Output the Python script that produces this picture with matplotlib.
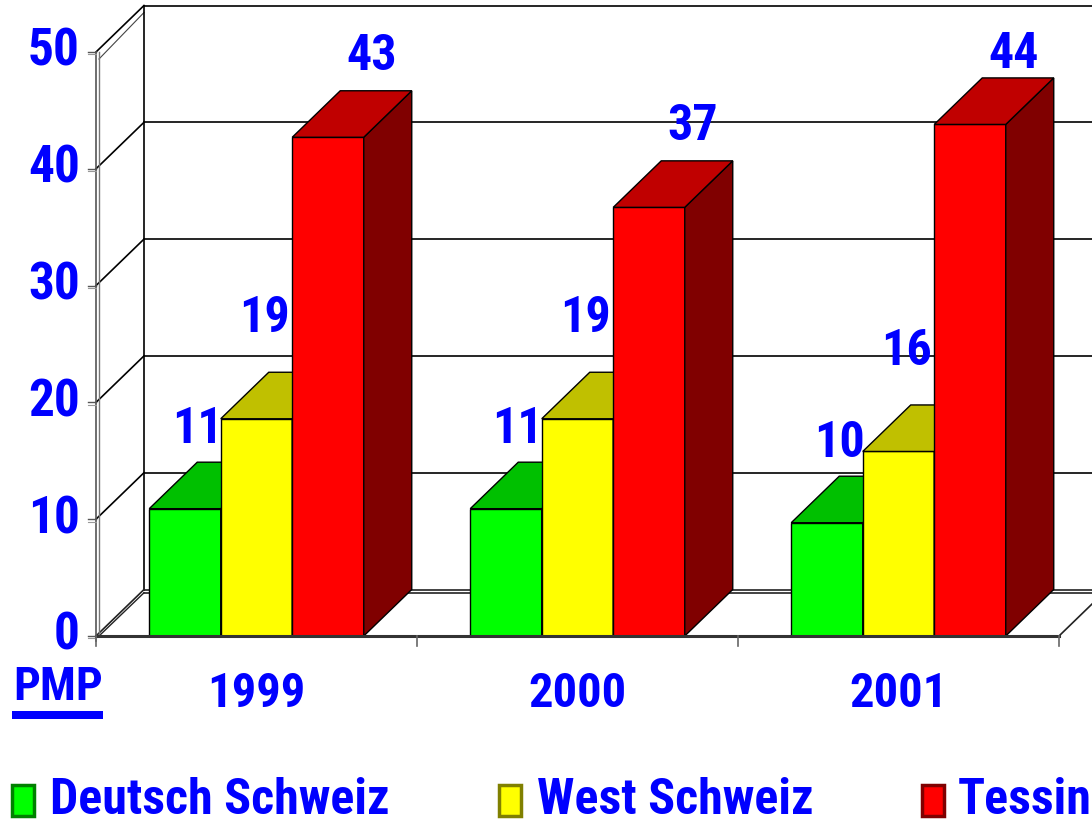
import matplotlib
matplotlib.use("Agg")
import matplotlib.pyplot as plt
from matplotlib.patches import Polygon, Rectangle
from matplotlib import font_manager

# ---- data ----
years = ["1999", "2000", "2001"]
series = ["Deutsch Schweiz", "West Schweiz", "Tessin"]
deutsch = [10.9, 10.9, 9.7]
west = [18.6, 18.6, 15.8]
tessin = [42.7, 36.7, 43.8]
labels_deutsch = [11, 11, 10]
labels_west = [19, 19, 16]
labels_tessin = [43, 37, 44]
y_ticks = [0, 10, 20, 30, 40, 50]

values = [deutsch, west, tessin]
value_labels = [labels_deutsch, labels_west, labels_tessin]
front_colors = ["#00FF00", "#FFFF00", "#FF0000"]
top_colors = ["#00C000", "#C0C000", "#C00000"]
side_colors = ["#008000", "#808000", "#800000"]
edge_legend = ["#008000", "#808000", "#800000"]
BLUE = "#0000FF"

names = {f.name for f in font_manager.fontManager.ttflist}
narrow = None
for cand in ["Liberation Sans Narrow", "Roboto Condensed", "Arial Narrow", "Open Sans Condensed"]:
    if cand in names:
        narrow = cand
        break
if narrow:
    FONT = [narrow, "DejaVu Sans"]
    FS_TICK, FS_VAL, FS_YEAR, FS_PMP, FS_LEG = 37, 36, 35, 34, 36
else:
    FONT = ["Liberation Sans", "DejaVu Sans"]
    FS_TICK, FS_VAL, FS_YEAR, FS_PMP, FS_LEG = 33.5, 33.5, 31, 29.5, 30

W, H = 1092, 826
fig = plt.figure(figsize=(W / 100, H / 100), dpi=100)
ax = fig.add_axes([0, 0, 1, 1])
ax.axis("off")

# pixel geometry of the frame (decoration only)
X0PX, CATPX = 96, 321.0
Y0PX, UNITPX = 636, 11.68


def px2x(px):
    return -0.5 + (px - X0PX) / CATPX


def py2y(py):
    return (Y0PX - py) / UNITPX


ax.set_xlim(px2x(0), px2x(W))
ax.set_ylim(py2y(H), py2y(0))

DX = 48 / CATPX
DY = 46.5 / UNITPX
ncat = len(years)
xl, xr = -0.5, ncat - 0.5
ymax = y_ticks[-1]
grid_c = "#000000"

# back wall gridlines
for v in y_ticks[1:]:
    ax.plot([xl + DX, px2x(W) + 1], [v + DY, v + DY], color=grid_c, lw=1.2, zorder=1)
    ax.plot([xl, xl + DX], [v, v + DY], color=grid_c, lw=1.2, zorder=1)
ax.plot([xl + 3 / CATPX, xl + DX], [ymax - 0.6, ymax + DY - 0.6], color="#444444", lw=0.8, zorder=1)
# back wall vertical
ax.plot([xl + DX, xl + DX], [DY, ymax + DY], color=grid_c, lw=1.2, zorder=1)
# floor back edge (double)
ax.plot([xl + DX, px2x(W) + 1], [DY, DY], color="#222222", lw=1.2, zorder=1)
ax.plot([xl + DX, px2x(W) + 1], [DY - 0.28, DY - 0.28], color="#222222", lw=1.2, zorder=1)
# floor side diagonals
ax.plot([xl, xl + DX], [0, DY], color="#222222", lw=1.2, zorder=1)
ax.plot([xl + 3 / CATPX, xl + DX], [0, DY - 0.28], color="#222222", lw=1.0, zorder=1)
ax.plot([xr, xr + DX], [0, DY], color="#222222", lw=1.2, zorder=1)
# front axis (double gray)
ax.plot([xl, xl], [-0.4, ymax], color="#555555", lw=1.2, zorder=2)
ax.plot([xl + 3 / CATPX, xl + 3 / CATPX], [0, ymax], color="#777777", lw=1.0, zorder=2)
for v in y_ticks:
    ax.plot([xl - 8 / CATPX, xl], [v, v], color="#555555", lw=1.0, zorder=2)
    ax.plot([xl - 8 / CATPX, xl], [v - 0.2, v - 0.2], color="#999999", lw=0.8, zorder=2)
    ax.text(px2x(80), v, str(v), ha="right", va="center", color=BLUE,
            fontsize=FS_TICK, fontweight="bold", family=FONT)
# floor front edge
ax.plot([xl, xr], [0, 0], color="#333333", lw=2.2, zorder=30)
for i in range(ncat + 1):
    xb = xl + i
    ax.plot([xb, xb], [0, -10 / UNITPX], color="#666666", lw=1.2, zorder=30)

# bars
bw = 71.5 / CATPX
nser = len(series)
z = 10
for g in range(ncat):
    for s in range(nser):
        xc = g + (s - (nser - 1) / 2) * bw
        v = values[s][g]
        bars = ax.bar(xc, v, width=bw, color=front_colors[s], edgecolor="black",
                      linewidth=1.0, zorder=z)
        b = bars[0]
        x1, x2 = b.get_x(), b.get_x() + b.get_width()
        top = Polygon([(x1, v), (x2, v), (x2 + DX, v + DY), (x1 + DX, v + DY)],
                      closed=True, facecolor=top_colors[s], edgecolor="black",
                      linewidth=1.0, zorder=z)
        side = Polygon([(x2, 0), (x2 + DX, DY), (x2 + DX, v + DY), (x2, v)],
                       closed=True, facecolor=side_colors[s], edgecolor="black",
                       linewidth=1.0, zorder=z)
        ax.add_patch(side)
        ax.add_patch(top)
        z += 1

# value labels
lab_dx = [12, 8, 44]      # px offsets per series
lab_dy = [79, 100, 81]    # px above front top
for g in range(ncat):
    for s in range(nser):
        xc = g + (s - (nser - 1) / 2) * bw
        v = values[s][g]
        ax.text(xc + lab_dx[s] / CATPX, min(v + lab_dy[s] / UNITPX, py2y(55)),
                str(value_labels[s][g]), ha="center", va="center", color=BLUE,
                fontsize=FS_VAL, fontweight="bold", family=FONT, zorder=60)

# category labels
for g, yr in enumerate(years):
    ax.text(g, py2y(694), yr, ha="center", va="center", color=BLUE,
            fontsize=FS_YEAR, fontweight="bold", family=FONT)

# PMP with underline
ax.text(px2x(13), py2y(687), "PMP", ha="left", va="center", color=BLUE,
        fontsize=FS_PMP, fontweight="bold", family=FONT)
ax.add_patch(Rectangle((px2x(12), py2y(719)), (103 - 12) / CATPX, 8 / UNITPX,
                       facecolor=BLUE, edgecolor="none"))

# legend
leg_sq_x = [10, 497, 920]
leg_tx_x = [50, 537, 958]
for s in range(nser):
    ax.add_patch(Rectangle((px2x(leg_sq_x[s] + 2), py2y(816)), 22 / CATPX, 31 / UNITPX,
                           facecolor=front_colors[s], edgecolor=edge_legend[s], linewidth=2.5))
    ax.text(px2x(leg_tx_x[s]), py2y(814), series[s], ha="left", va="baseline",
            color=BLUE, fontsize=FS_LEG, fontweight="bold", family=FONT)

fig.savefig("out.png", dpi=100)
